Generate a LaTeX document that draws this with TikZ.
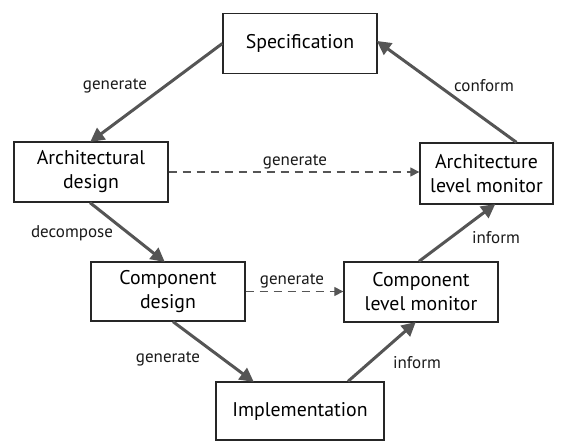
\documentclass[tikz,border=0pt]{standalone}
\usepackage{fontspec}
\setmainfont{PT Sans}
\usetikzlibrary{arrows.meta}
\definecolor{linegray}{HTML}{555555}
\tikzset{
  box/.style={draw=black!85, line width=1.3pt, fill=white, align=center,
    inner sep=0pt, font=\fontsize{19.8}{24}\selectfont},
  flow/.style={draw=linegray, line width=3pt,
    -{Triangle[length=14pt,width=14pt]}, shorten >=-1pt},
  gen/.style={draw=linegray, line width=1.2pt, dash pattern=on 8pt off 6pt,
    -{Triangle[length=9pt,width=9pt]}},
  lbl/.style={font=\fontsize{17}{19}\selectfont, text=black!90, inner sep=0pt}
}
\begin{document}
\begin{tikzpicture}[x=1pt,y=-1pt]
\useasboundingbox (0,0) rectangle (566,440);

% boxes
\node[box, minimum width=154pt, minimum height=60pt] (spec) at (300,43.5) {Specification};
\node[box, minimum width=154pt, minimum height=60pt] (arch) at (91,172) {Architectural\\design};
\node[box, minimum width=133pt, minimum height=61pt] (archmon) at (486.5,173.5) {Architecture\\level monitor};
\node[box, minimum width=154pt, minimum height=59pt] (comp) at (168,291.5) {Component\\design};
\node[box, minimum width=154pt, minimum height=60pt] (compmon) at (421,292) {Component\\level monitor};
\node[box, minimum width=168pt, minimum height=58pt] (impl) at (300,411) {Implementation};

% top-down flow
\draw[flow] (spec.west) -- (arch.north);
\draw[flow] ([xshift=-1pt]arch.south) -- ([xshift=-4pt]comp.north);
\draw[flow] ([xshift=5pt]comp.south) -- ([xshift=-47pt]impl.north);

% bottom-up flow
\draw[flow] ([xshift=48pt]impl.north) -- ([xshift=-6pt]compmon.south);
\draw[flow] ([xshift=-2pt]compmon.north) -- ([xshift=8pt]archmon.south);
\draw[flow] ([xshift=30pt]archmon.north) -- ([yshift=2pt]spec.east);

% monitor generation
\draw[gen] (arch.east) -- (archmon.west |- arch.east);
\draw[gen] (comp.east) -- (compmon.west |- comp.east);

% labels
\node[lbl] (l1) at (115,86) {generate};
\node[lbl] (l2) at (484,86) {conform};
\node[lbl] (l3) at (295,162) {generate};
\node[lbl] (l4) at (72,233) {decompose};
\node[lbl] (l5) at (496,238) {inform};
\node[lbl] (l6) at (292,281) {generate};
\node[lbl] (l7) at (168,359) {generate};
\node[lbl] (l8) at (417,363) {inform};
\end{tikzpicture}
\end{document}
